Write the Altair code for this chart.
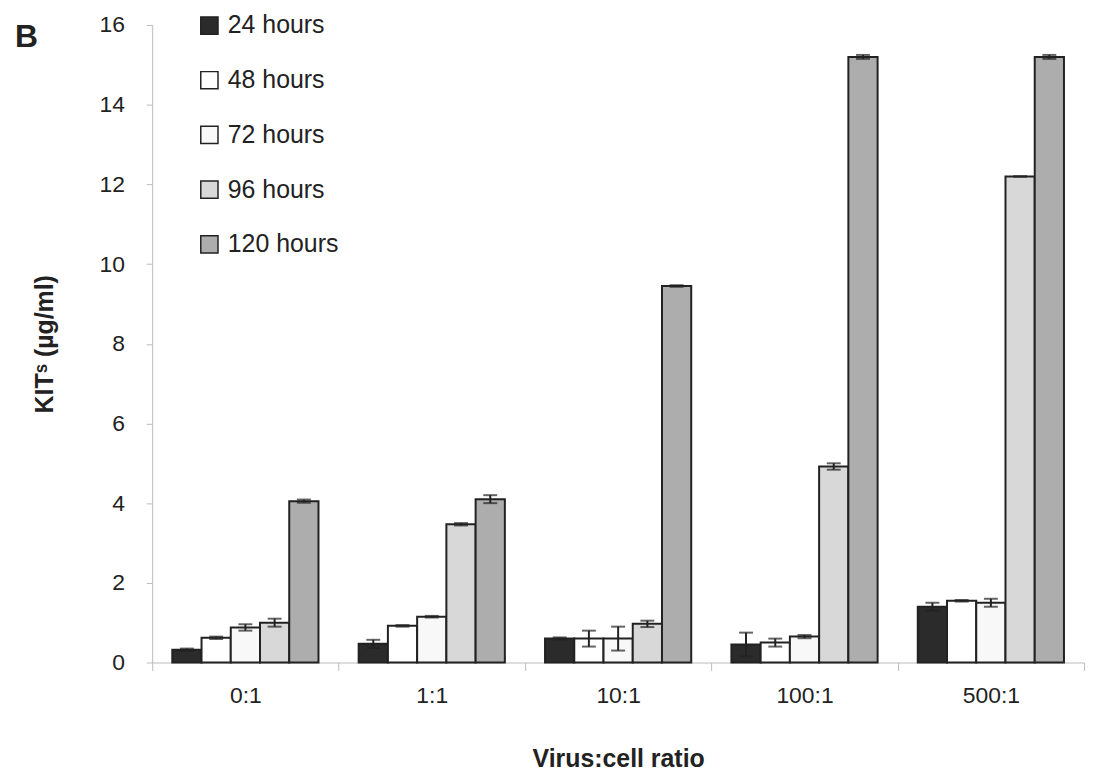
import altair as alt
import pandas as pd

groups = ["0:1", "1:1", "10:1", "100:1", "500:1"]
times = ["24 hours", "48 hours", "72 hours", "96 hours", "120 hours"]
colors = ["#2b2b2b", "#ffffff", "#f8f8f8", "#d8d8d8", "#adadad"]

v24 = [0.32, 0.47, 0.60, 0.45, 1.40]
v48 = [0.62, 0.92, 0.60, 0.50, 1.55]
v72 = [0.88, 1.15, 0.60, 0.65, 1.50]
v96 = [1.00, 3.47, 0.97, 4.92, 12.20]
v120 = [4.05, 4.10, 9.45, 15.20, 15.20]

e24 = [0.03, 0.10, 0.03, 0.30, 0.10]
e48 = [0.03, 0.02, 0.20, 0.10, 0.02]
e72 = [0.08, 0.02, 0.30, 0.04, 0.10]
e96 = [0.10, 0.03, 0.08, 0.08, 0.00]
e120 = [0.04, 0.10, 0.02, 0.05, 0.05]

rows = []
for t, vals, errs in zip(times, [v24, v48, v72, v96, v120], [e24, e48, e72, e96, e120]):
    for g, v, e in zip(groups, vals, errs):
        rows.append({"group": g, "time": t, "value": v, "lo": v - e, "hi": v + e})
df = pd.DataFrame(rows)

FONT = "Liberation Sans"

x = alt.X("group:N", sort=groups,
          scale=alt.Scale(paddingInner=0, paddingOuter=0),
          axis=alt.Axis(title="Virus:cell ratio", labelAngle=0, tickBand="extent",
                        labelFontSize=23, labelColor="#222", labelPadding=14,
                        tickSize=8, tickColor="#bbbbbb", domainColor="#bbbbbb",
                        titleFontSize=25, titleFontWeight="bold", titlePadding=40,
                        titleColor="#222"))
xo = alt.XOffset("time:N", sort=times,
                 scale=alt.Scale(paddingInner=0, paddingOuter=0.687))

bars = alt.Chart(df).mark_bar(stroke="#222", strokeWidth=2).encode(
    x=x, xOffset=xo,
    y=alt.Y("value:Q", scale=alt.Scale(domain=[0, 16], nice=False),
            axis=alt.Axis(title="KITˢ (µg/ml)", values=list(range(0, 17, 2)),
                          grid=False, labelFontSize=23, labelColor="#222",
                          tickSize=6, labelPadding=22, tickColor="#bbbbbb",
                          domainColor="#bbbbbb", titleFontSize=25,
                          titleFontWeight="bold", titlePadding=42, titleColor="#222")),
    color=alt.Color("time:N", sort=times, scale=alt.Scale(domain=times, range=colors),
                    legend=alt.Legend(title=None, orient="none", legendX=45, legendY=-12,
                                      symbolType="square", symbolSize=300,
                                      symbolStrokeColor="#222", symbolStrokeWidth=1.5,
                                      labelFontSize=25, labelColor="#222",
                                      rowPadding=29, labelOffset=6)),
)

rules = alt.Chart(df).mark_rule(color="#222", strokeWidth=2).encode(
    x=x, xOffset=xo, y="lo:Q", y2="hi:Q")
cap_hi = alt.Chart(df).mark_tick(color="#222", thickness=2, size=14).encode(
    x=x, xOffset=xo, y="hi:Q")
cap_lo = alt.Chart(df).mark_tick(color="#222", thickness=2, size=14).encode(
    x=x, xOffset=xo, y="lo:Q")

label_b = alt.Chart(pd.DataFrame({"t": ["B"]})).mark_text(
    fontSize=32, fontWeight="bold", font=FONT, align="left", baseline="middle",
    color="#222").encode(x=alt.value(-138), y=alt.value(12), text="t:N")

chart = alt.layer(bars, rules, cap_hi, cap_lo, label_b).properties(
    width=937, height=641,
    autosize=alt.AutoSizeParams(type="none"),
    padding={"left": 145, "top": 15, "right": 10, "bottom": 116},
).configure(font=FONT).configure_view(stroke=None)

chart.save("out.html", embed_options={"renderer": "svg", "actions": False})
